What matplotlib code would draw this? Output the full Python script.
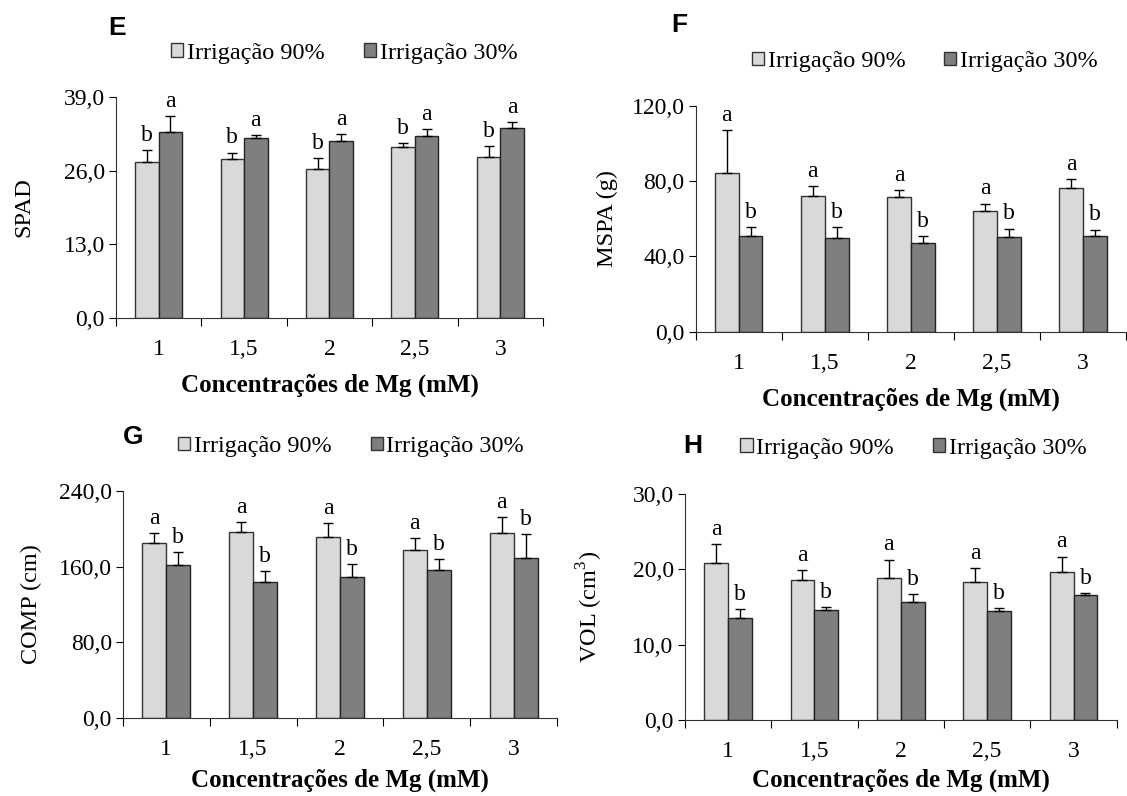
import matplotlib
matplotlib.use('Agg')
import matplotlib.pyplot as plt
from matplotlib.patches import Patch
import numpy as np

plt.rcParams['font.family'] = ['Liberation Serif', 'DejaVu Serif']
plt.rcParams['font.size'] = 17
plt.rcParams['mathtext.fontset'] = 'custom'
plt.rcParams['mathtext.rm'] = 'Liberation Serif'

doses = ['1', '1,5', '2', '2,5', '3']
series_names = ['Irrigação 90%', 'Irrigação 30%']

# E - SPAD
spad_90 = [27.6, 28.0, 26.3, 30.1, 28.5]
spad_90_err = [2.1, 1.2, 1.9, 0.7, 1.8]
spad_30 = [32.9, 31.7, 31.3, 32.2, 33.6]
spad_30_err = [2.7, 0.6, 1.2, 1.2, 1.0]
spad_letters = (['b'] * 5, ['a'] * 5)

# F - MSPA
mspa_90 = [84.4, 72.2, 71.6, 64.4, 76.4]
mspa_90_err = [22.7, 5.3, 3.6, 3.7, 4.8]
mspa_30 = [50.9, 50.0, 47.3, 50.5, 51.1]
mspa_30_err = [4.8, 5.7, 3.6, 4.3, 3.2]
mspa_letters = (['a'] * 5, ['b'] * 5)

# G - COMP
comp_90 = [185.3, 197.0, 191.0, 177.9, 195.9]
comp_90_err = [10.6, 10.5, 15.1, 12.7, 16.9]
comp_30 = [162.0, 144.0, 149.3, 156.7, 169.4]
comp_30_err = [13.8, 11.3, 13.8, 11.7, 25.4]
comp_letters = (['a'] * 5, ['b'] * 5)

# H - VOL
vol_90 = [20.9, 18.6, 18.9, 18.3, 19.7]
vol_90_err = [2.4, 1.3, 2.4, 1.9, 2.0]
vol_30 = [13.5, 14.6, 15.7, 14.5, 16.6]
vol_30_err = [1.2, 0.4, 1.0, 0.3, 0.3]
vol_letters = (['a'] * 5, ['b'] * 5)

light = '#d9d9d9'
dark = '#7f7f7f'


def fmt(v):
    return ('%.1f' % v).replace('.', ',')


def panel(fig, rect, v1, e1, v2, e2, letters, yticks, ylabel, ylab_x, xpad, tag, tagpos, legpos):
    ax = fig.add_axes(rect)
    x = np.arange(len(doses))
    w = 0.276
    ekw = dict(ecolor='black', elinewidth=1, capsize=3.5, capthick=1)
    ax.bar(x - w / 2, v1, w, color=light, edgecolor='#333333', linewidth=1,
           yerr=[np.zeros(5), e1], error_kw=ekw)
    ax.bar(x + w / 2, v2, w, color=dark, edgecolor='#222222', linewidth=1,
           yerr=[np.zeros(5), e2], error_kw=ekw)
    for i in range(5):
        ax.annotate(letters[0][i], (x[i] - w / 2, v1[i] + e1[i]), xytext=(0, 3),
                    textcoords='offset points', ha='center', va='bottom', fontsize=17)
        ax.annotate(letters[1][i], (x[i] + w / 2, v2[i] + e2[i]), xytext=(0, 3),
                    textcoords='offset points', ha='center', va='bottom', fontsize=17)
    ax.set_xlim(-0.5, 4.5)
    ax.set_ylim(0, yticks[-1])
    ax.set_yticks(yticks)
    ax.set_yticklabels([fmt(t) for t in yticks])
    ax.set_xticks(np.arange(-0.5, 5, 1))
    ax.set_xticklabels([])
    ax.set_xticks(x, minor=True)
    ax.set_xticklabels(doses, minor=True)
    ax.tick_params(axis='x', which='major', length=6, direction='out')
    ax.tick_params(axis='x', which='minor', length=0, pad=15)
    ax.tick_params(axis='y', length=5, direction='out', pad=3)
    for s in ['top', 'right']:
        ax.spines[s].set_visible(False)
    ax.spines['left'].set_color('#333333')
    ax.spines['bottom'].set_color('#333333')
    ax.set_ylabel(ylabel, fontsize=17.5)
    ax.yaxis.set_label_coords(ylab_x, 0.5)
    ax.set_xlabel('Concentrações de Mg (mM)', fontsize=18, fontweight='bold', labelpad=xpad)
    fig.text(tagpos[0], tagpos[1], tag, fontsize=19, fontweight='bold',
             family='Liberation Sans', ha='left', va='center')
    handles = [Patch(facecolor=light, edgecolor='#333333'), Patch(facecolor=dark, edgecolor='#333333')]
    fig.legend(handles, series_names, loc='center left', bbox_to_anchor=legpos, ncol=2,
               frameon=False, borderpad=0, borderaxespad=0, handlelength=0.5, handleheight=0.5,
               handletextpad=0.15, columnspacing=1.6,
               prop=dict(family='Liberation Serif', size=17.5))
    return ax


fig = plt.figure(figsize=(11.27, 7.96), dpi=100)
panel(fig, [0.1029, 0.6005, 0.3789, 0.2776], spad_90, spad_90_err, spad_30, spad_30_err,
      spad_letters, [0, 13, 26, 39], 'SPAD', -0.19, 10, 'E', (0.096, 0.965), (0.152, 0.933))
panel(fig, [0.6172, 0.5833, 0.382, 0.2835], mspa_90, mspa_90_err, mspa_30, mspa_30_err,
      mspa_letters, [0, 40, 80, 120], 'MSPA (g)', -0.18, 10, 'F', (0.596, 0.9686), (0.667, 0.9225))
panel(fig, [0.1091, 0.098, 0.3851, 0.2852], comp_90, comp_90_err, comp_30, comp_30_err,
      comp_letters, [0, 80, 160, 240], 'COMP (cm)', -0.187, 6, 'G', (0.109, 0.451), (0.158, 0.439))
panel(fig, [0.6076, 0.0955, 0.3833, 0.2839], vol_90, vol_90_err, vol_30, vol_30_err,
      vol_letters, [0, 10, 20, 30], 'VOL (cm$^3$)', -0.184, 5, 'H', (0.606, 0.4403), (0.657, 0.4368))

fig.savefig('out.png', dpi=100)
